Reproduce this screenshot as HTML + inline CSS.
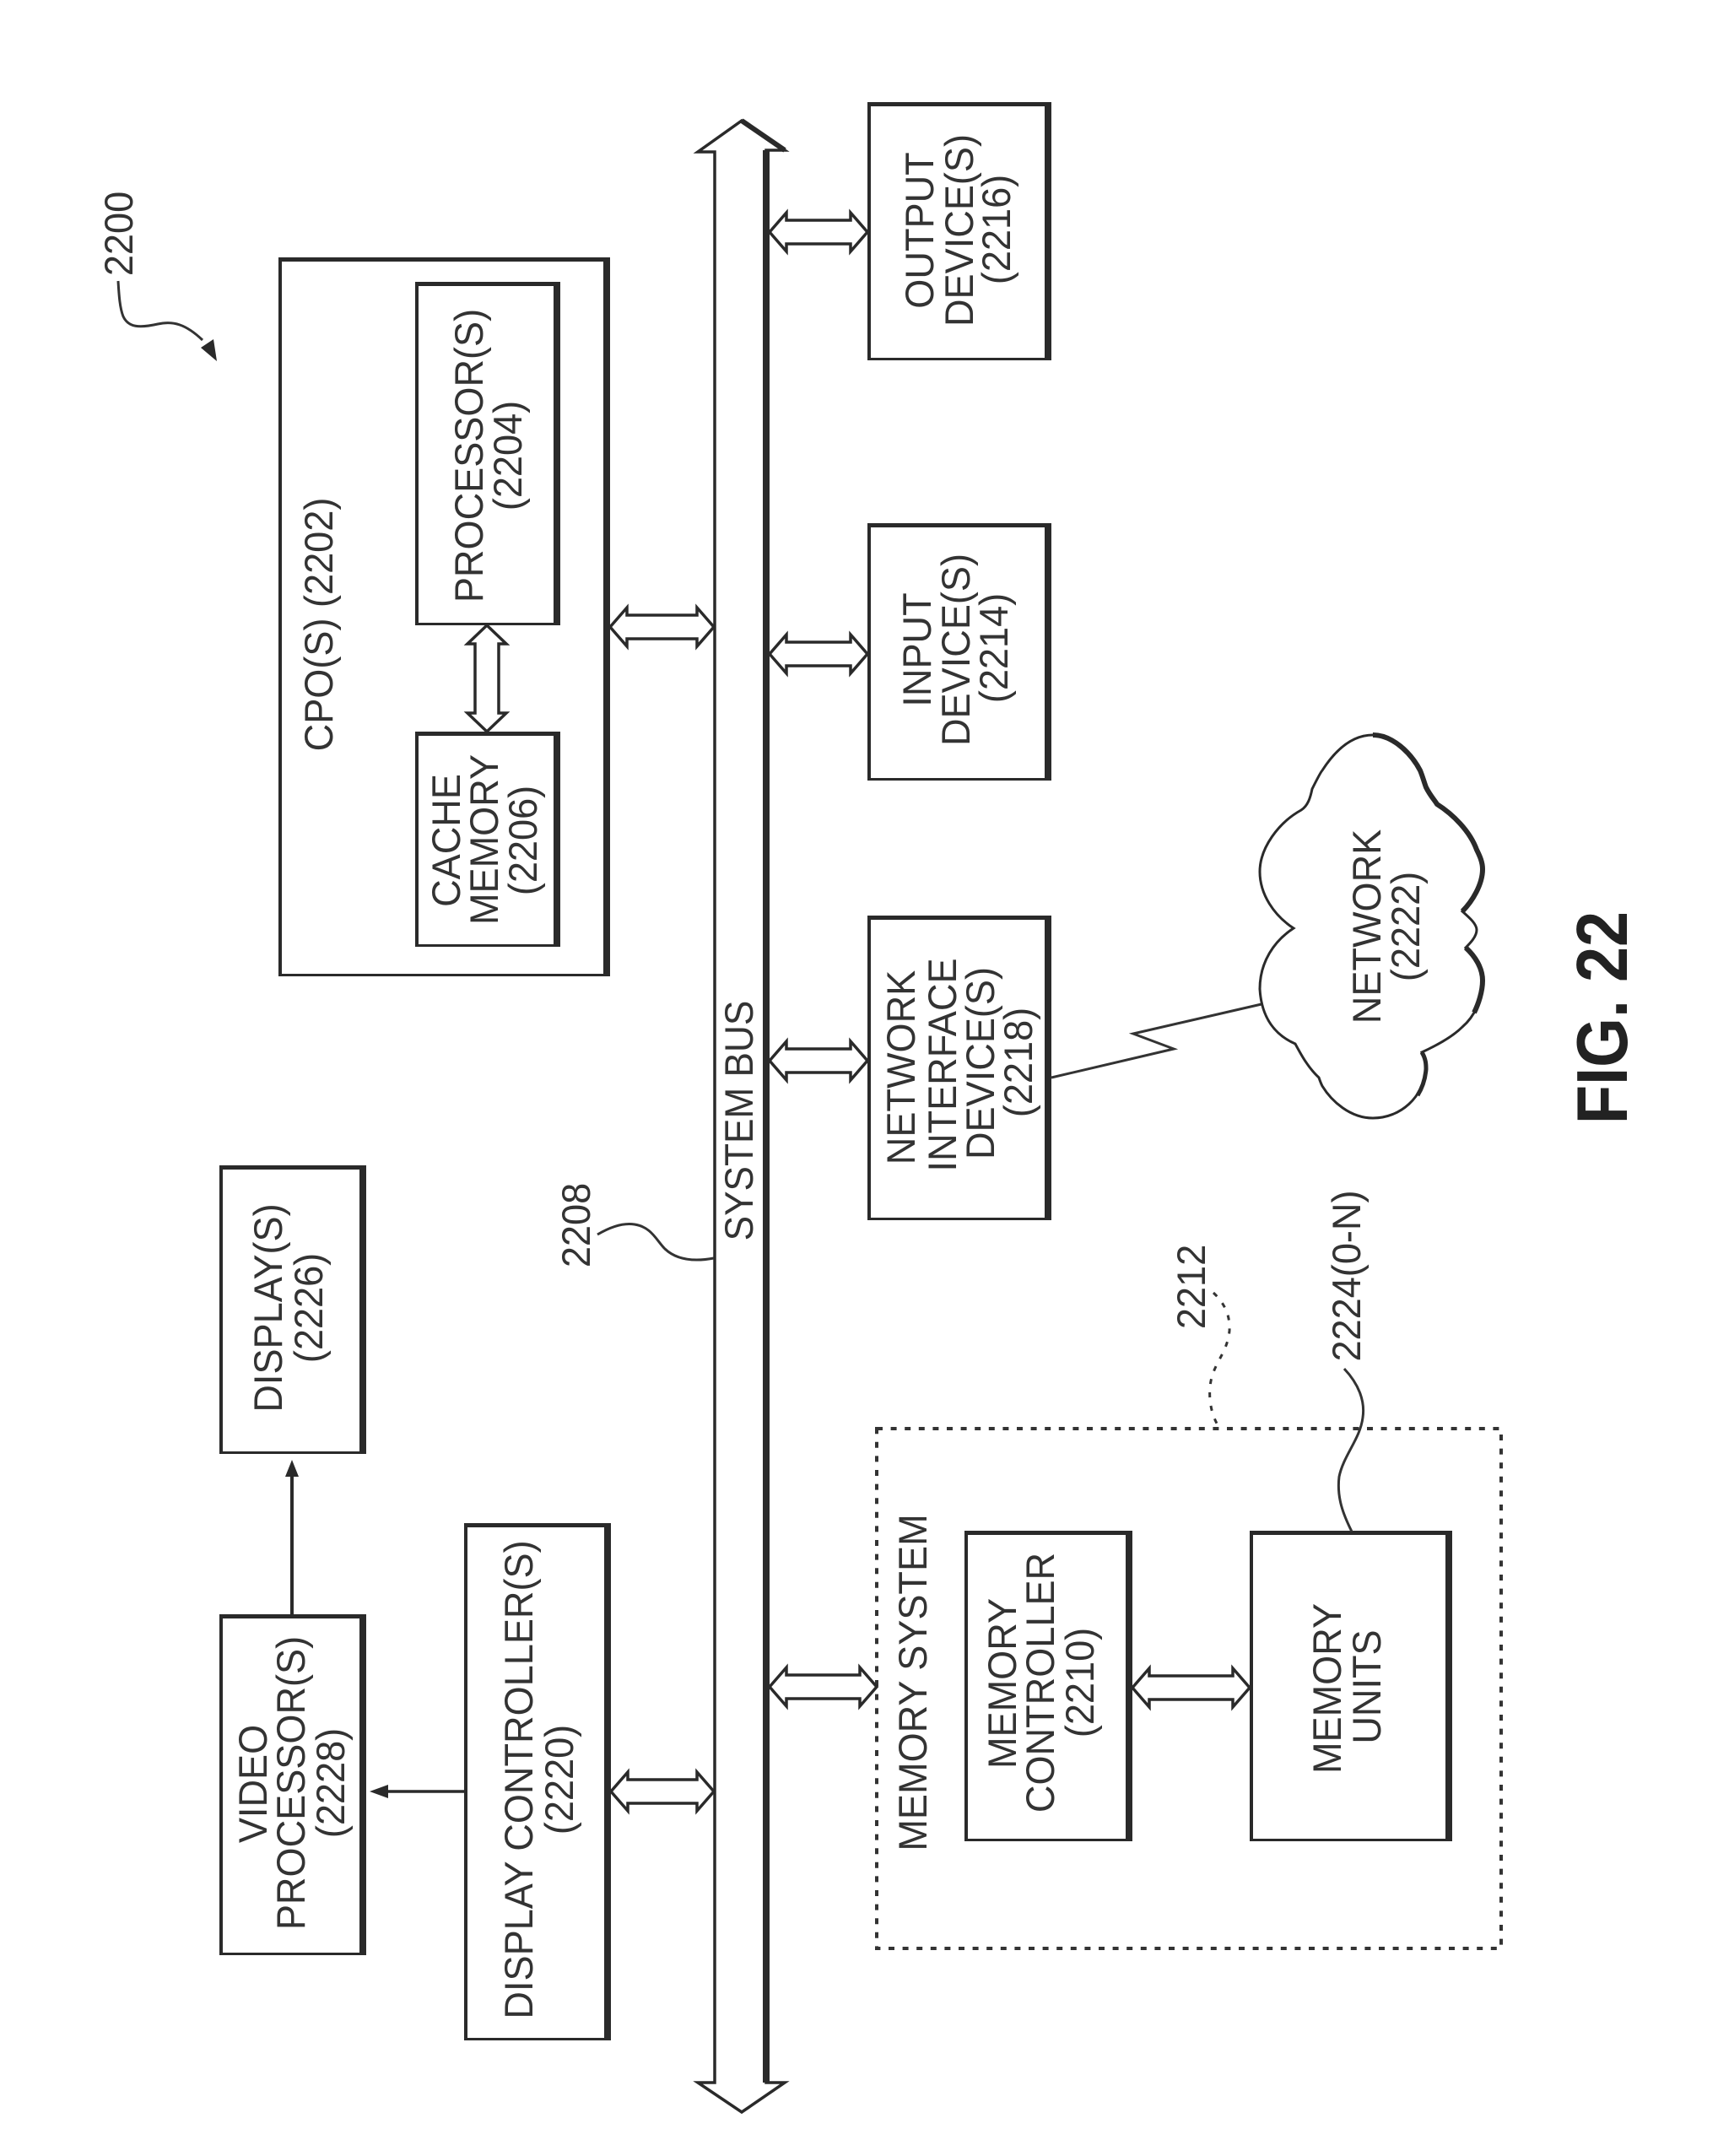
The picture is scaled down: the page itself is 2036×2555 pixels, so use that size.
<!DOCTYPE html>
<html>
<head>
<meta charset="utf-8">
<style>
html,body{margin:0;padding:0;background:#fff;width:2036px;height:2555px;overflow:hidden}
svg{display:block}
text{font-family:"Liberation Sans",sans-serif;font-size:47px;fill:#333;text-anchor:middle}
.a{fill:#fff;stroke:#2a2a2a;stroke-width:3.5;stroke-linejoin:miter}
.l{fill:none;stroke:#333;stroke-width:3}
.d{fill:#2a2a2a}
.w{fill:#fff}
</style>
</head>
<body>
<svg xmlns="http://www.w3.org/2000/svg" width="2036" height="2555" viewBox="0 0 2036 2555">
<rect width="2036" height="2555" fill="#fff"/>

<!-- Boxes: dark outer rect + white inner rect -->
<rect class="d" x="330" y="305" width="393" height="852"/><rect class="w" x="334" y="310" width="381" height="844"/>
<rect class="d" x="492" y="334" width="172" height="407"/><rect class="w" x="496" y="339" width="160" height="399"/>
<rect class="d" x="492" y="867" width="172" height="255"/><rect class="w" x="496" y="872" width="160" height="247"/>

<rect class="d" x="1028" y="121" width="218" height="306"/><rect class="w" x="1032" y="126" width="206" height="298"/>
<rect class="d" x="1028" y="620" width="218" height="305"/><rect class="w" x="1032" y="625" width="206" height="297"/>
<rect class="d" x="1028" y="1085" width="218" height="361"/><rect class="w" x="1032" y="1090" width="206" height="353"/>

<rect class="d" x="260" y="1381" width="174" height="342"/><rect class="w" x="264" y="1386" width="162" height="334"/>
<rect class="d" x="260" y="1913" width="174" height="404"/><rect class="w" x="264" y="1918" width="162" height="396"/>
<rect class="d" x="550" y="1805" width="174" height="613"/><rect class="w" x="554" y="1810" width="162" height="605"/>

<rect x="1039" y="1693" width="740" height="616" fill="none" stroke="#333" stroke-width="4" stroke-dasharray="7 9.6"/>
<rect class="d" x="1143" y="1814" width="199" height="368"/><rect class="w" x="1147" y="1819" width="187" height="360"/>
<rect class="d" x="1481" y="1814" width="240" height="368"/><rect class="w" x="1485" y="1819" width="228" height="360"/>

<!-- System bus -->
<polygon points="879,143 930,178 908,178 908,2468 930,2468 879,2503 827,2468 847,2468 847,180 827,180" fill="#fff" stroke="#2a2a2a" stroke-width="3.5"/>
<rect class="d" x="904" y="178" width="8" height="2290"/>
<path d="M879 143L930 178" fill="none" stroke="#2a2a2a" stroke-width="6"/>

<!-- Double arrows -->
<polygon class="a" points="723,743 743,720 743,729 826,729 826,720 846,743 826,766 826,757 743,757 743,766"/>
<polygon class="a" points="912,275 932,252 932,261 1008,261 1008,252 1028,275 1008,298 1008,289 932,289 932,298"/>
<polygon class="a" points="912,775 932,752 932,761 1008,761 1008,752 1028,775 1008,798 1008,789 932,789 932,798"/>
<polygon class="a" points="912,1257 932,1234 932,1243 1008,1243 1008,1234 1028,1257 1008,1280 1008,1271 932,1271 932,1280"/>
<polygon class="a" points="912,1999 932,1976 932,1985 1019,1985 1019,1976 1039,1999 1019,2022 1019,2013 932,2013 932,2022"/>
<polygon class="a" points="724,2123 744,2100 744,2109 826,2109 826,2100 846,2123 826,2146 826,2137 744,2137 744,2146"/>
<polygon class="a" points="1342,2000 1362,1977 1362,1986 1461,1986 1461,1977 1481,2000 1461,2023 1461,2014 1362,2014 1362,2023"/>
<polygon class="a" points="577,741 600,763 591,763 591,845 600,845 577,867 554,845 563,845 563,763 554,763"/>

<!-- Single arrows -->
<path d="M346 1913V1748" stroke="#2a2a2a" stroke-width="4" fill="none"/>
<polygon points="346,1730 338,1750 354,1750" fill="#2a2a2a"/>
<path d="M550 2123H455" stroke="#2a2a2a" stroke-width="3.5" fill="none"/>
<polygon points="438,2123 460,2115 460,2131" fill="#2a2a2a"/>

<!-- Lightning -->
<polyline class="l" points="1246,1277 1391,1243 1343,1225 1495,1190"/>

<!-- Cloud -->
<path d="M1542 960 C1550 955 1553 945 1555 935 C1560 925 1565 915 1567 913 C1585 885 1605 871 1627 871 C1650 871 1672 892 1683 913 C1686 920 1688 928 1690 933 C1695 943 1700 948 1703 953 C1722 965 1742 985 1750 1007 C1754 1015 1757 1022 1757 1030 C1757 1048 1745 1068 1733 1080 C1742 1088 1750 1095 1750 1102 C1750 1110 1742 1118 1737 1123 C1748 1133 1757 1147 1757 1162 C1757 1185 1747 1205 1733 1217 C1720 1230 1700 1240 1685 1247 C1690 1255 1690 1262 1690 1267 C1687 1300 1660 1325 1627 1325 C1600 1325 1578 1305 1567 1287 C1565 1283 1564 1280 1563 1277 C1550 1265 1542 1250 1535 1237 C1512 1227 1495 1207 1493 1172 C1493 1140 1510 1115 1533 1100 C1510 1085 1493 1060 1493 1033 C1493 1005 1515 975 1542 960 Z" fill="#fff" stroke="#2a2a2a" stroke-width="3"/>
<path d="M1627 871 C1650 871 1672 892 1683 913 C1686 920 1688 928 1690 933 C1695 943 1700 948 1703 953 C1722 965 1742 985 1750 1007 C1754 1015 1757 1022 1757 1030 C1757 1048 1745 1068 1733 1080" fill="none" stroke="#2a2a2a" stroke-width="6"/>
<path d="M1737 1123 C1748 1133 1757 1147 1757 1162 C1757 1175 1752 1190 1747 1200" fill="none" stroke="#2a2a2a" stroke-width="6"/>
<path d="M1685 1247 C1690 1255 1690 1262 1690 1267 C1689 1280 1685 1290 1680 1298" fill="none" stroke="#2a2a2a" stroke-width="5"/>

<!-- Leaders -->
<path class="l" d="M140 333 C141 350 142 365 146 375 C152 388 165 389 187 384 C205 380 220 384 240 403"/>
<polygon points="238,412 253,402 257,428" fill="#2a2a2a"/>
<path class="l" d="M708 1463 C725 1453 740 1449 752 1451 C772 1454 778 1470 788 1480 C805 1496 830 1494 846 1491"/>
<path class="l" stroke-dasharray="6 10" d="M1438 1532 C1452 1545 1458 1560 1457 1577 C1455 1600 1442 1612 1436 1632 C1431 1652 1434 1675 1445 1692"/>
<path class="l" d="M1593 1622 C1610 1640 1618 1660 1615 1680 C1612 1705 1592 1725 1587 1750 C1584 1775 1592 1795 1602 1815"/>

<!-- Labels -->
<text transform="translate(157,277) rotate(-90) scale(.96,1)">2200</text>
<text transform="translate(394,740) rotate(-90) scale(.96,1)">CPO(S) (2202)</text>
<text transform="translate(572,540) rotate(-90) scale(.96,1)">PROCESSOR(S)</text>
<text transform="translate(618,540) rotate(-90) scale(.96,1)">(2204)</text>
<text transform="translate(545,996) rotate(-90) scale(.96,1)">CACHE</text>
<text transform="translate(590,995) rotate(-90) scale(.96,1)">MEMORY</text>
<text transform="translate(636,996) rotate(-90) scale(.96,1)">(2206)</text>
<text transform="translate(892,1328) rotate(-90) scale(.94,1)">SYSTEM BUS</text>

<text transform="translate(1106,273) rotate(-90) scale(.96,1)">OUTPUT</text>
<text transform="translate(1153,273) rotate(-90) scale(.96,1)">DEVICE(S)</text>
<text transform="translate(1197,272) rotate(-90) scale(.96,1)">(2216)</text>
<text transform="translate(1103,770) rotate(-90) scale(.96,1)">INPUT</text>
<text transform="translate(1149,770) rotate(-90) scale(.96,1)">DEVICE(S)</text>
<text transform="translate(1194,768) rotate(-90) scale(.96,1)">(2214)</text>
<text transform="translate(1084,1265) rotate(-90) scale(.96,1)">NETWORK</text>
<text transform="translate(1133,1262) rotate(-90) scale(.96,1)">INTERFACE</text>
<text transform="translate(1178,1260) rotate(-90) scale(.96,1)">DEVICE(S)</text>
<text transform="translate(1223,1259) rotate(-90) scale(.96,1)">(2218)</text>
<text transform="translate(1636,1098) rotate(-90) scale(.96,1)">NETWORK</text>
<text transform="translate(1682,1098) rotate(-90) scale(.96,1)">(2222)</text>
<text transform="translate(1928,1206) rotate(-90) scale(.89,1)" style="font-size:85px;font-weight:bold;fill:#222">FIG. 22</text>

<text transform="translate(334,1550) rotate(-90) scale(.96,1)">DISPLAY(S)</text>
<text transform="translate(382,1550) rotate(-90) scale(.96,1)">(2226)</text>
<text transform="translate(316,2114) rotate(-90) scale(.96,1)">VIDEO</text>
<text transform="translate(361,2113) rotate(-90) scale(.96,1)">PROCESSOR(S)</text>
<text transform="translate(408,2113) rotate(-90) scale(.96,1)">(2228)</text>
<text transform="translate(631,2109) rotate(-90) scale(.96,1)">DISPLAY CONTROLLER(S)</text>
<text transform="translate(679,2109) rotate(-90) scale(.96,1)">(2220)</text>
<text transform="translate(699,1452) rotate(-90) scale(.96,1)">2208</text>
<text transform="translate(1428,1525) rotate(-90) scale(.96,1)">2212</text>
<text transform="translate(1612,1512) rotate(-90) scale(.96,1)">2224(0-N)</text>
<text transform="translate(1098,1994) rotate(-90) scale(.96,1)">MEMORY SYSTEM</text>
<text transform="translate(1204,1995) rotate(-90) scale(.96,1)">MEMORY</text>
<text transform="translate(1249,1994) rotate(-90) scale(.96,1)">CONTROLLER</text>
<text transform="translate(1296,1994) rotate(-90) scale(.96,1)">(2210)</text>
<text transform="translate(1589,2001) rotate(-90) scale(.96,1)">MEMORY</text>
<text transform="translate(1636,1999) rotate(-90) scale(.96,1)">UNITS</text>
</svg>
</body>
</html>
